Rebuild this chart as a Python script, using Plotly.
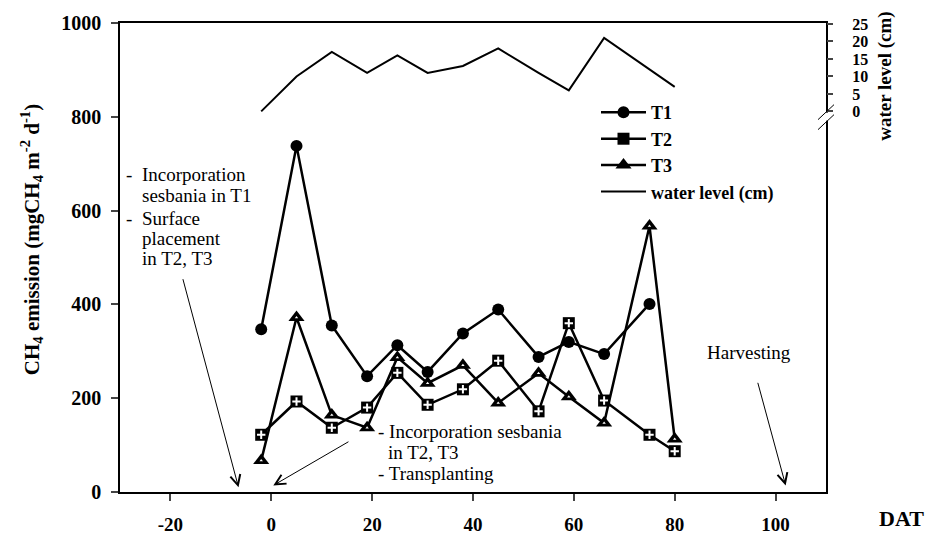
import plotly.graph_objects as go

# ---------------- data ----------------
dat_t1 = [-2, 5, 12, 19, 25, 31, 38, 45, 53, 59, 66, 75]
t1 = [347, 738, 355, 247, 313, 256, 338, 389, 288, 320, 294, 401]

dat_t23 = [-2, 5, 12, 19, 25, 31, 38, 45, 53, 59, 66, 75, 80]
t2 = [122, 193, 137, 180, 254, 186, 219, 280, 172, 360, 195, 122, 87]
t3 = [67, 372, 164, 137, 287, 232, 270, 190, 253, 203, 147, 567, 113]

dat_w = [-2, 5, 12, 19, 25, 31, 38, 45, 53, 59, 66, 80]
water = [0, 10, 17, 11, 16, 11, 13, 18, 11, 6, 21, 7]

x_ticks = [-20, 0, 20, 40, 60, 80, 100]
x_ticktext = ["-20", "0", "20", "40", "60", "80", "100"]
y_ticks = [0, 200, 400, 600, 800, 1000]
w_ticks = [0, 5, 10, 15, 20, 25]

FONT = "Liberation Serif"
W, H = 929, 547
L, R, T, B = 120, 103, 22, 37
PW, PH = W - L - R, H - T - B


def px(xp):
    return (xp - L) / PW


def py(yp):
    return (H - B - yp) / PH


fig = go.Figure()

fig.add_trace(go.Scatter(
    x=dat_t1, y=t1, name="T1", mode="lines+markers",
    line=dict(color="black", width=2.5),
    marker=dict(symbol="circle", size=12, color="black"),
))
fig.add_trace(go.Scatter(
    x=dat_t23, y=t2, name="T2", mode="lines+markers",
    line=dict(color="black", width=2.5),
    marker=dict(symbol="square", size=12, color="black"),
))
fig.add_trace(go.Scatter(
    x=dat_t23, y=t2, name="T2", mode="markers", showlegend=False, hoverinfo="skip",
    marker=dict(symbol="cross-thin", size=6, color="white",
                line=dict(color="white", width=2)),
))
fig.add_trace(go.Scatter(
    x=dat_t23, y=t3, name="T3", mode="lines+markers",
    line=dict(color="black", width=2.5),
    marker=dict(symbol="triangle-up", size=14, color="black"),
))
fig.add_trace(go.Scatter(
    x=dat_t23, y=t3, name="T3", mode="markers", showlegend=False, hoverinfo="skip",
    marker=dict(symbol="triangle-up", size=3, color="white"),
))
fig.add_trace(go.Scatter(
    x=dat_w, y=water, name="water level (cm)", mode="lines",
    line=dict(color="black", width=2), yaxis="y2",
))

annotations = []
tf = dict(family=FONT, size=19, color="black")


def txt(text, xp, yp, anchor="left"):
    annotations.append(dict(text=text, x=px(xp), y=py(yp), xref="paper", yref="paper",
                            xanchor=anchor, yanchor="middle", showarrow=False, font=tf))


# left block
txt("-", 124, 180)
txt("Incorporation", 140, 180)
txt("sesbania in T1", 140, 202)
txt("-", 124, 225)
txt("Surface", 140, 225)
txt("placement", 140, 246)
txt("in T2, T3", 140, 267)
# middle block
txt("- Incorporation sesbania", 376, 447)
txt("in T2, T3", 386, 469)
txt("- Transplanting", 376, 491)
# harvesting
txt("Harvesting", 749, 365, anchor="center")

# arrows
for (tx, ty, axx, ayy) in [(-6.5, 10, -17.6, 457), (0.4, 14, 15.6, 109), (102, 14, 96.4, 236)]:
    annotations.append(dict(x=tx, y=ty, ax=axx, ay=ayy, xref="x", yref="y",
                            axref="x", ayref="y", text="", showarrow=True,
                            arrowhead=5, arrowsize=2, arrowwidth=1, arrowcolor="black"))

# axis titles
annotations.append(dict(
    text="<b>CH<sub>4</sub> emission (mgCH<sub>4</sub> m<sup>-2</sup> d<sup>-1</sup>)</b>",
    x=px(31), y=py(248), xref="paper", yref="paper", textangle=-90,
    xanchor="center", yanchor="middle",
    showarrow=False, font=dict(family=FONT, size=21, color="black")))
annotations.append(dict(
    text="<b>water level (cm)</b>", x=px(885), y=py(78), xref="paper", yref="paper",
    xanchor="center", yanchor="middle",
    textangle=-90, showarrow=False, font=dict(family=FONT, size=19, color="black")))
annotations.append(dict(
    text="<b>DAT</b>", x=px(902), y=py(538), xref="paper", yref="paper",
    xanchor="center", yanchor="middle",
    showarrow=False, font=dict(family=FONT, size=22, color="black")))

# axis break on right axis
shapes = [
    dict(type="rect", xref="x domain", yref="y2", xsizemode="pixel", ysizemode="pixel",
         xanchor=1, yanchor=-1.5, x0=-3, x1=3, y0=-4, y1=4,
         fillcolor="white", line=dict(width=0)),
    dict(type="line", xref="x domain", yref="y2", xsizemode="pixel", ysizemode="pixel",
         xanchor=1, yanchor=-1.5, x0=-8, x1=8, y0=-3, y1=12, line=dict(color="black", width=1)),
    dict(type="line", xref="x domain", yref="y2", xsizemode="pixel", ysizemode="pixel",
         xanchor=1, yanchor=-1.5, x0=-8, x1=8, y0=-13, y1=2, line=dict(color="black", width=1)),
]

fig.update_layout(
    width=W, height=H,
    margin=dict(l=L, r=R, t=T, b=B),
    paper_bgcolor="white", plot_bgcolor="white",
    font=dict(family=FONT, color="black"),
    showlegend=True,
    legend=dict(x=px(596), y=py(96), xanchor="left", yanchor="top",
                bgcolor="rgba(0,0,0,0)",
                font=dict(family=FONT, size=18, color="black", weight="bold"),
                itemwidth=45, tracegroupgap=0),
    xaxis=dict(range=[-30, 110], tickvals=x_ticks, ticktext=x_ticktext,
               ticks="outside", ticklen=7,
               tickwidth=1.5, showline=True, linewidth=1.5, linecolor="black",
               mirror=True, showgrid=False, zeroline=False,
               tickfont=dict(family=FONT, size=19, color="black", weight="bold"),
               ticklabelstandoff=7),
    yaxis=dict(range=[0, 1000], tickvals=y_ticks, ticks="outside", ticklen=7,
               tickwidth=1.5, showline=True, linewidth=1.5, linecolor="black",
               mirror=True, showgrid=False, zeroline=False,
               tickfont=dict(family=FONT, size=20, color="black", weight="bold"),
               ticklabelstandoff=6),
    yaxis2=dict(overlaying="y", side="right", range=[-108.8, 25.27], tickvals=w_ticks,
                ticks="outside", ticklen=6, tickwidth=1.5, showline=False, showgrid=False,
                zeroline=False,
                tickfont=dict(family=FONT, size=16, color="black", weight="bold"),
                ticklabelstandoff=16),
    annotations=annotations,
    shapes=shapes,
)

fig.write_html("out.html", config={"displayModeBar": False},
               post_script="document.body.style.margin='0';document.body.style.padding='0';")
